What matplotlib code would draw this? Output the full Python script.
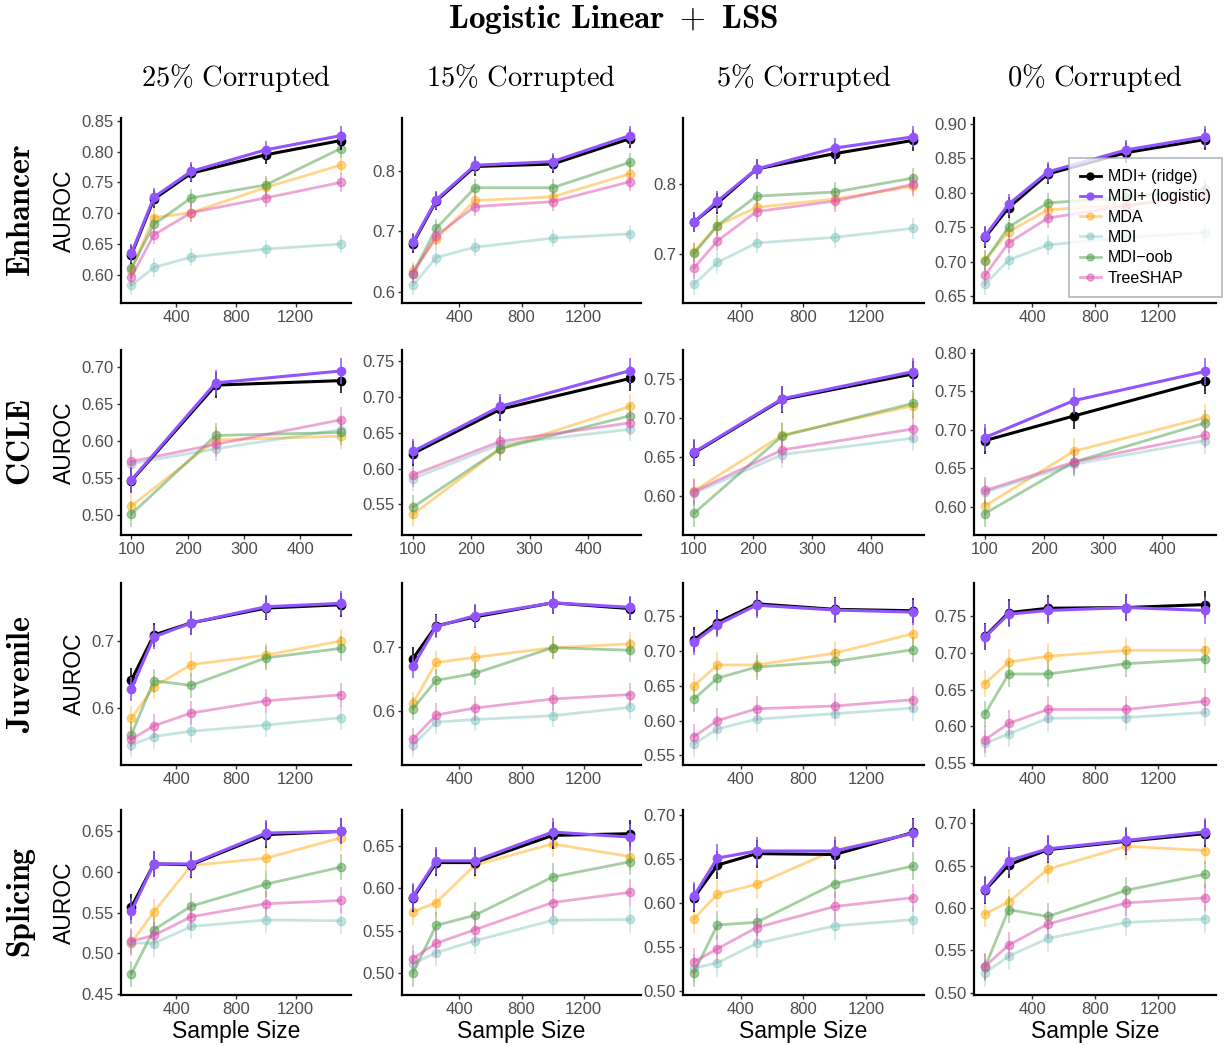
import numpy as np
import matplotlib
matplotlib.use("Agg")
import matplotlib.pyplot as plt
from matplotlib.lines import Line2D

plt.rcParams["font.family"] = ["Liberation Sans", "DejaVu Sans"]
plt.rcParams["mathtext.fontset"] = "cm"

# ---------------------------------------------------------------------------
# Data: mean AUROC per method, dataset and corruption level
# ---------------------------------------------------------------------------
methods = ["MDI+ (ridge)", "MDI+ (logistic)", "MDA", "MDI", "MDI\u2212oob", "TreeSHAP"]
colors = ["#000000", "#9254FF", "#FFA500", "#71BEB7", "#4E9E48", "#DC50AF"]
alphas = [1.0, 1.0, 0.45, 0.4, 0.5, 0.5]

datasets = ["Enhancer", "CCLE", "Juvenile", "Splicing"]
corruptions = ["25%", "15%", "5%", "0%"]

n_default = [100, 250, 500, 1000, 1500]
n_ccle = [100, 250, 472]

# half-width of the error bars for each dataset
err_sizes = [0.015, 0.017, 0.018, 0.016]

enhancer = [
    # 25% corrupted
    [[0.633, 0.723, 0.765, 0.795, 0.818],
     [0.635, 0.726, 0.768, 0.803, 0.826],
     [0.608, 0.693, 0.701, 0.742, 0.778],
     [0.583, 0.612, 0.629, 0.642, 0.650],
     [0.611, 0.682, 0.725, 0.746, 0.805],
     [0.597, 0.665, 0.701, 0.725, 0.750]],
    # 15% corrupted
    [[0.680, 0.750, 0.807, 0.811, 0.853],
     [0.682, 0.752, 0.809, 0.815, 0.858],
     [0.635, 0.688, 0.751, 0.757, 0.795],
     [0.611, 0.657, 0.674, 0.689, 0.696],
     [0.630, 0.705, 0.772, 0.772, 0.814],
     [0.630, 0.693, 0.741, 0.749, 0.782]],
    # 5% corrupted
    [[0.746, 0.773, 0.822, 0.844, 0.863],
     [0.746, 0.776, 0.822, 0.852, 0.868],
     [0.703, 0.741, 0.767, 0.779, 0.797],
     [0.657, 0.688, 0.716, 0.724, 0.737],
     [0.701, 0.741, 0.783, 0.789, 0.809],
     [0.680, 0.719, 0.761, 0.776, 0.800]],
    # 0% corrupted
    [[0.735, 0.778, 0.827, 0.858, 0.877],
     [0.737, 0.783, 0.830, 0.862, 0.881],
     [0.702, 0.743, 0.775, 0.782, 0.797],
     [0.667, 0.702, 0.724, 0.735, 0.742],
     [0.701, 0.750, 0.785, 0.793, 0.805],
     [0.680, 0.727, 0.763, 0.781, 0.795]],
]

ccle = [
    [[0.546, 0.675, 0.681],
     [0.547, 0.678, 0.694],
     [0.512, 0.601, 0.606],
     [0.569, 0.589, 0.615],
     [0.501, 0.607, 0.611],
     [0.572, 0.595, 0.628]],
    [[0.621, 0.683, 0.726],
     [0.624, 0.687, 0.737],
     [0.536, 0.628, 0.687],
     [0.586, 0.634, 0.655],
     [0.546, 0.628, 0.674],
     [0.591, 0.638, 0.664]],
    [[0.655, 0.724, 0.757],
     [0.656, 0.725, 0.760],
     [0.606, 0.678, 0.716],
     [0.603, 0.653, 0.674],
     [0.577, 0.677, 0.719],
     [0.605, 0.659, 0.686]],
    [[0.686, 0.718, 0.764],
     [0.690, 0.738, 0.776],
     [0.601, 0.672, 0.716],
     [0.619, 0.655, 0.686],
     [0.591, 0.658, 0.709],
     [0.621, 0.658, 0.693]],
]

juvenile = [
    [[0.642, 0.709, 0.727, 0.749, 0.754],
     [0.629, 0.706, 0.727, 0.751, 0.756],
     [0.585, 0.632, 0.665, 0.679, 0.700],
     [0.546, 0.558, 0.566, 0.575, 0.586],
     [0.561, 0.641, 0.634, 0.675, 0.689],
     [0.554, 0.574, 0.593, 0.611, 0.620]],
    [[0.682, 0.733, 0.747, 0.769, 0.760],
     [0.670, 0.732, 0.749, 0.769, 0.762],
     [0.612, 0.676, 0.684, 0.699, 0.705],
     [0.547, 0.583, 0.587, 0.593, 0.606],
     [0.604, 0.648, 0.659, 0.699, 0.695],
     [0.556, 0.594, 0.605, 0.619, 0.626]],
    [[0.716, 0.741, 0.768, 0.760, 0.758],
     [0.713, 0.738, 0.766, 0.759, 0.756],
     [0.650, 0.680, 0.680, 0.697, 0.725],
     [0.566, 0.588, 0.602, 0.610, 0.618],
     [0.631, 0.661, 0.677, 0.685, 0.702],
     [0.577, 0.600, 0.617, 0.621, 0.630]],
    [[0.722, 0.754, 0.760, 0.761, 0.765],
     [0.721, 0.752, 0.757, 0.761, 0.757],
     [0.658, 0.687, 0.695, 0.703, 0.703],
     [0.577, 0.590, 0.611, 0.612, 0.619],
     [0.617, 0.671, 0.671, 0.685, 0.691],
     [0.582, 0.604, 0.623, 0.623, 0.634]],
]

splicing = [
    [[0.557, 0.610, 0.609, 0.646, 0.650],
     [0.552, 0.610, 0.610, 0.648, 0.650],
     [0.513, 0.551, 0.608, 0.617, 0.642],
     [0.513, 0.512, 0.533, 0.541, 0.540],
     [0.475, 0.529, 0.558, 0.585, 0.606],
     [0.515, 0.522, 0.545, 0.561, 0.565]],
    [[0.588, 0.630, 0.630, 0.662, 0.664],
     [0.590, 0.632, 0.632, 0.666, 0.660],
     [0.572, 0.583, 0.627, 0.652, 0.637],
     [0.511, 0.524, 0.538, 0.562, 0.563],
     [0.500, 0.556, 0.568, 0.613, 0.631],
     [0.517, 0.535, 0.551, 0.583, 0.595]],
    [[0.606, 0.643, 0.656, 0.655, 0.680],
     [0.608, 0.651, 0.659, 0.659, 0.679],
     [0.582, 0.610, 0.621, 0.660, 0.679],
     [0.526, 0.532, 0.554, 0.574, 0.581],
     [0.521, 0.575, 0.578, 0.622, 0.642],
     [0.533, 0.548, 0.572, 0.596, 0.606]],
    [[0.621, 0.651, 0.669, 0.679, 0.688],
     [0.622, 0.656, 0.670, 0.680, 0.690],
     [0.593, 0.607, 0.646, 0.673, 0.668],
     [0.523, 0.543, 0.564, 0.583, 0.587],
     [0.530, 0.598, 0.590, 0.621, 0.640],
     [0.531, 0.556, 0.581, 0.606, 0.612]],
]

all_results = [enhancer, ccle, juvenile, splicing]
sample_sizes = [n_default, n_ccle, n_default, n_default]

# y ticks used in each panel (row = dataset, col = corruption level)
yticks = [
    [[0.60, 0.65, 0.70, 0.75, 0.80, 0.85], [0.6, 0.7, 0.8], [0.7, 0.8],
     [0.65, 0.70, 0.75, 0.80, 0.85, 0.90]],
    [[0.50, 0.55, 0.60, 0.65, 0.70], [0.55, 0.60, 0.65, 0.70, 0.75],
     [0.60, 0.65, 0.70, 0.75], [0.60, 0.65, 0.70, 0.75, 0.80]],
    [[0.6, 0.7], [0.6, 0.7], [0.55, 0.60, 0.65, 0.70, 0.75],
     [0.55, 0.60, 0.65, 0.70, 0.75]],
    [[0.45, 0.50, 0.55, 0.60, 0.65], [0.50, 0.55, 0.60, 0.65],
     [0.50, 0.55, 0.60, 0.65, 0.70], [0.50, 0.55, 0.60, 0.65, 0.70]],
]
xticks = [[400, 800, 1200], [100, 200, 300, 400], [400, 800, 1200], [400, 800, 1200]]

# ---------------------------------------------------------------------------
# Figure layout (pixel boxes of each panel)
# ---------------------------------------------------------------------------
W, H = 1227, 1046
fig = plt.figure(figsize=(W / 100, H / 100), dpi=100)

col_left = [121, 402, 683, 974]
col_right = [351, 641, 924, 1216]
row_top = [118, 350, 583, 810]
row_bottom = [303, 535, 765, 995]

tick_color = "#4D4D4D"

for i, (dname, results, n) in enumerate(zip(datasets, all_results, sample_sizes)):
    for j in range(4):
        rect = [col_left[j] / W, 1 - row_bottom[i] / H,
                (col_right[j] - col_left[j]) / W, (row_bottom[i] - row_top[i]) / H]
        ax = fig.add_axes(rect)
        vals = np.array(results[j])
        err = err_sizes[i]

        # draw baselines first, MDI+ variants on top
        order = [2, 3, 4, 5, 0, 1]
        for k in order:
            lw = 2.2 if k < 2 else 2.0
            ax.errorbar(n, vals[k], yerr=err, color=colors[k], alpha=alphas[k],
                        lw=lw, marker="o", ms=6, elinewidth=1.1, capsize=0,
                        zorder=3 + order.index(k))

        # ggplot-style 5% expansion of the data range
        lo = vals.min() - err
        hi = vals.max() + err
        pad = 0.05 * (hi - lo)
        ax.set_ylim(lo - pad, hi + pad)
        xpad = 0.05 * (n[-1] - n[0])
        ax.set_xlim(n[0] - xpad, n[-1] + xpad)

        yt = yticks[i][j]
        dec = 1 if all(abs(round(t, 1) - t) < 1e-9 for t in yt) else 2
        ax.set_yticks(yt)
        ax.set_yticklabels([f"{t:.{dec}f}" for t in yt])
        ax.set_xticks(xticks[i])

        for side in ["top", "right"]:
            ax.spines[side].set_visible(False)
        for side in ["left", "bottom"]:
            ax.spines[side].set_linewidth(1.6)
        ax.tick_params(axis="both", colors="#333333", labelcolor=tick_color,
                       labelsize=12, length=3, width=1, pad=2)

        if j == 0:
            ax.set_ylabel("AUROC", fontsize=16.5, labelpad=4)
        if i == 3:
            ax.set_xlabel("Sample Size", fontsize=16.5, labelpad=2)

        if i == 0 and j == 3:
            handles = [Line2D([0], [0], color=c, alpha=a, lw=2, marker="o", ms=5)
                       for c, a in zip(colors, alphas)]
            width_px = col_right[3] - col_left[3]
            height_px = row_bottom[0] - row_top[0]
            leg = ax.legend(handles, methods, loc="upper right",
                            bbox_to_anchor=((1222 - col_left[3]) / width_px,
                                            1 - (158 - row_top[0]) / height_px),
                            borderaxespad=0,
                            fontsize=11.5, frameon=True, fancybox=False,
                            handlelength=1.3, handletextpad=0.45,
                            labelspacing=0.33, borderpad=0.7)
            leg.get_frame().set_edgecolor("#9AA5B5")
            leg.get_frame().set_linewidth(1.2)
            leg.set_zorder(20)

# Column and row headers
for j, c in enumerate(corruptions):
    xc = (col_left[j] + col_right[j]) / 2 / W
    fig.text(xc, 1 - 78 / H, r"$\mathrm{" + c.replace("%", r"\%") + r"\ Corrupted}$",
             ha="center", va="center", fontsize=20.5)

for i, d in enumerate(datasets):
    yc = 1 - (row_top[i] + row_bottom[i]) / 2 / H
    fig.text(22 / W, yc, r"$\mathbf{" + d + "}$", rotation=90,
             ha="center", va="center", fontsize=23)

fig.text(0.5, 1 - 19 / H, r"$\mathbf{Logistic\ Linear\ +\ LSS}$",
         ha="center", va="center", fontsize=24)

fig.savefig("out.png", dpi=100, facecolor="white")
